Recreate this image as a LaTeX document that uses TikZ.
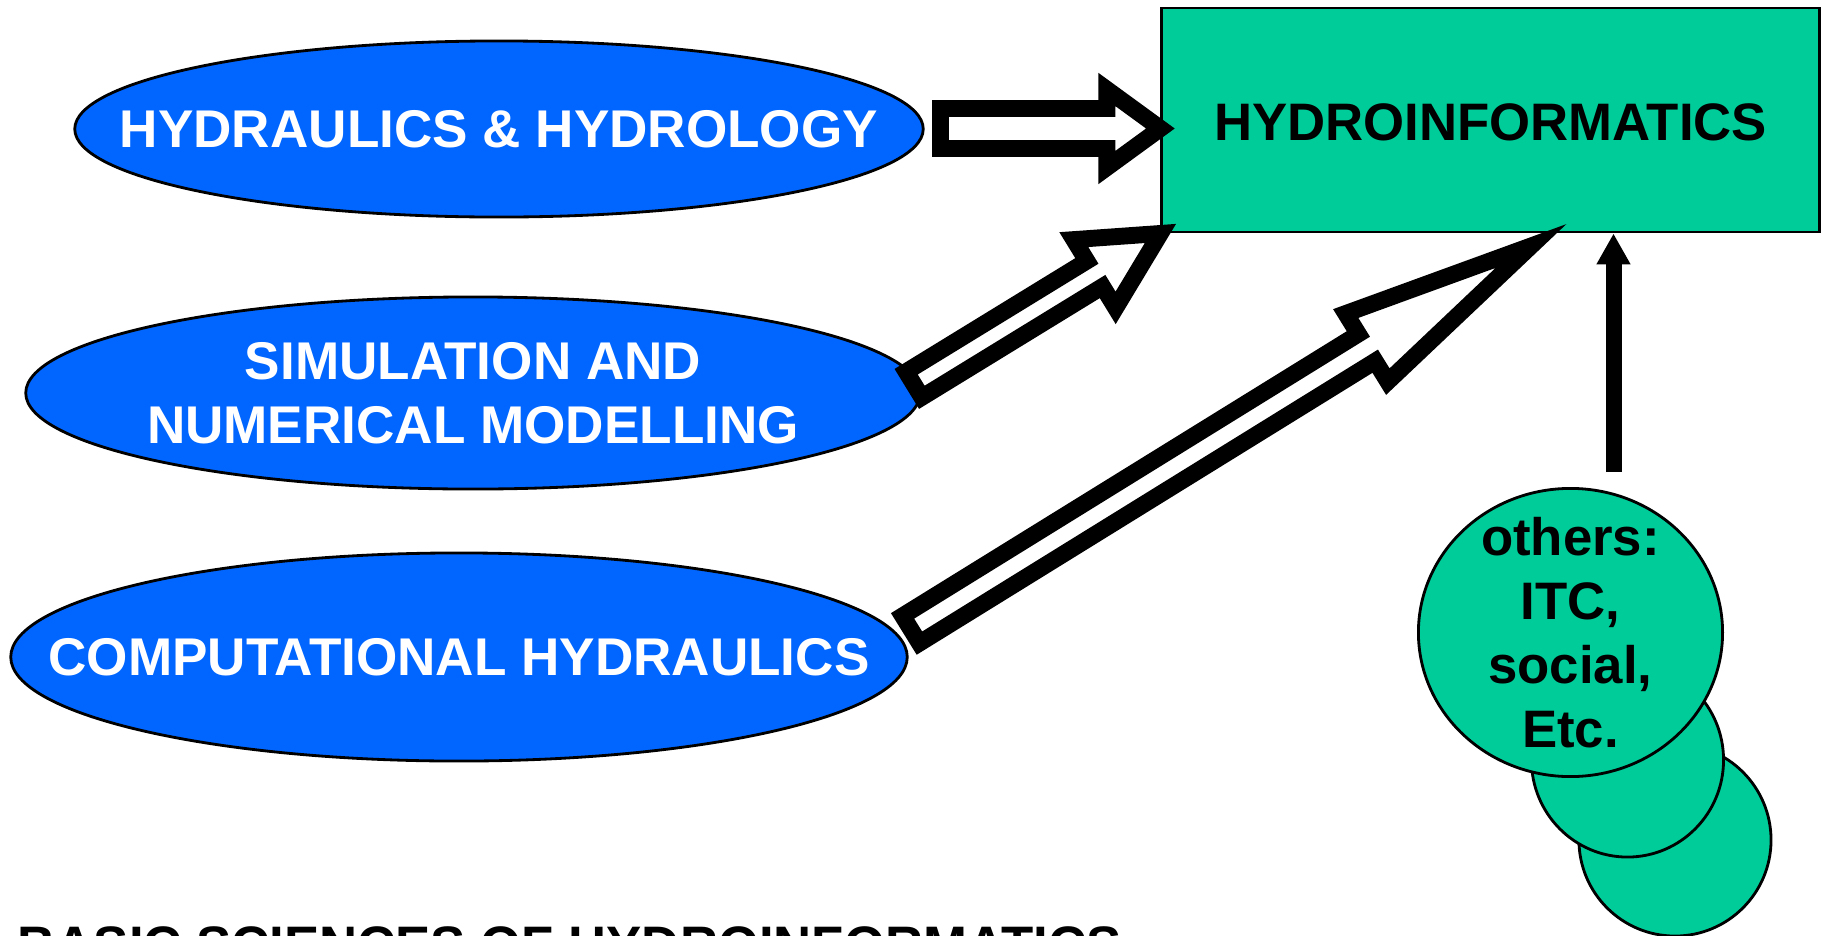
\documentclass[tikz,border=0pt]{standalone}
\usepackage{fontspec}
\setmainfont{Liberation Sans}
\usetikzlibrary{shapes.geometric}
\usetikzlibrary{calc}
\usetikzlibrary{arrows.meta}

\definecolor{fieldblue}{RGB}{0,102,255}
\definecolor{infogreen}{RGB}{0,204,153}

\tikzset{
  field/.style={ellipse, draw=black, line width=0.8pt, fill=fieldblue, inner sep=0pt},
  fieldtext/.style={text=white, align=center, font=\bfseries\fontsize{15.1}{18.2}\selectfont},
  blob/.style={ellipse, draw=black, line width=0.8pt, fill=infogreen, inner sep=0pt},
  blobtext/.style={text=black, align=center, font=\bfseries\fontsize{15}{18.2}\selectfont},
  hollow/.style={draw=black, fill=white, line width=4.8pt, line join=miter, miter limit=10},
}

% hollow block arrow: tail, tip, half shaft, head length, half head
\newcommand{\blockarrow}[5]{%
  \coordinate (headbase) at ($(#2)!#4!(#1)$);
  \draw[hollow] ($(#1)!#3!90:(#2)$) -- ($(headbase)!#3!90:(#2)$) -- ($(headbase)!#5!90:(#2)$)
    -- (#2) -- ($(headbase)!#5!-90:(#2)$) -- ($(headbase)!#3!-90:(#2)$) -- ($(#1)!#3!-90:(#2)$) -- cycle;
}

\begin{document}
\begin{tikzpicture}[x=0.01cm, y=-0.01cm]
    \useasboundingbox (0, 0) rectangle (1826, 936);
    % basic sciences
    \node [field, minimum width=8.48cm, minimum height=1.76cm,
      label={[fieldtext]center:{HYDRAULICS \& HYDROLOGY}}] (hyd) at (499, 129) {};
    \node [field, minimum width=8.94cm, minimum height=1.92cm,
      label={[fieldtext]center:{SIMULATION AND\\NUMERICAL MODELLING}}] (sim) at (473, 393) {};
    \node [field, minimum width=8.96cm, minimum height=2.08cm,
      label={[fieldtext]center:{COMPUTATIONAL HYDRAULICS}}] (comp) at (459, 657) {};
    % target
    \node [draw=black, line width=0.8pt, fill=infogreen, minimum width=6.57cm, minimum height=2.24cm,
      inner sep=0pt, label={[blobtext, yshift=-0.02cm]center:HYDROINFORMATICS}] (hydro) at (1490.5, 120) {};
    % others (stack)
    \node [blob, minimum width=1.92cm, minimum height=1.92cm] (oth3) at (1675, 840) {};
    \node [blob, minimum width=1.92cm, minimum height=1.94cm] (oth2) at (1627.5, 760) {};
    \node [blob, minimum width=3.04cm, minimum height=2.88cm,
      label={[blobtext]center:{others:\\ITC,\\social,\\Etc.}}] (oth) at (1570.5, 632.5) {};
    % arrows
    \coordinate (hyd-out) at (940.5, 128.5);
    \coordinate (hydro-in) at (hydro.west |- hyd-out);
    \coordinate (sim-out) at (914, 384.5);
    \coordinate (comp-out) at (911, 629.5);
    \coordinate (comp-in) at (1531, 246);
    \coordinate (oth-out) at (1613.5, 472);
    \blockarrow{hyd-out}{hydro-in}{0.2cm}{0.535cm}{0.39cm}
    \blockarrow{sim-out}{hydro.south west}{0.15cm}{0.77cm}{0.4cm}
    \blockarrow{comp-out}{comp-in}{0.16cm}{1.93cm}{0.4cm}
    \draw [-{Triangle[width=0.32cm, length=0.31cm]}, line width=0.16cm] (oth-out) to (oth-out |- hydro.south);
    % title
    \node [anchor=north west, inner sep=0pt, font=\bfseries\fontsize{15}{18}\selectfont] (title) at (17, 926)
      {BASIC SCIENCES OF HYDROINFORMATICS};
\end{tikzpicture}
\end{document}
